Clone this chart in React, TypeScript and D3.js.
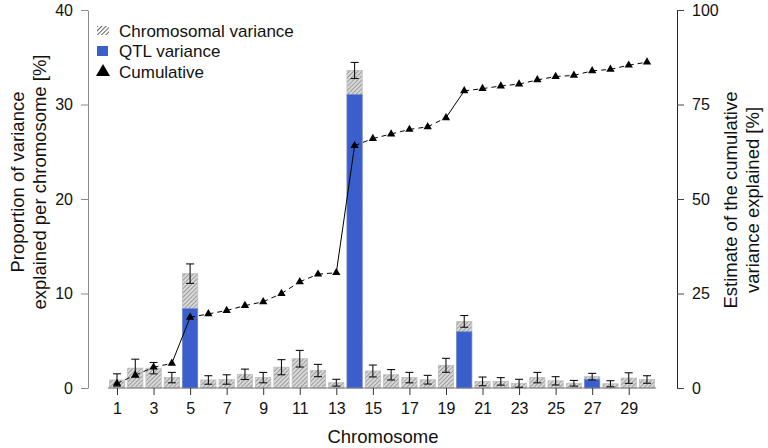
import { useEffect, useRef } from "react";
import * as d3 from "d3";

const chromosomes = [
  1, 2, 3, 4, 5, 6, 7, 8, 9, 10, 11, 12, 13, 14, 15,
  16, 17, 18, 19, 20, 21, 22, 23, 24, 25, 26, 27, 28, 29, 30,
];
// total variance explained per chromosome [%]
const totalVariance = [
  0.85, 2.1, 2.1, 1.1, 12.1, 0.85, 0.9, 1.45, 1.1, 2.2, 3.1, 1.85, 0.56, 33.6, 1.8,
  1.4, 1.1, 0.88, 2.4, 7.05, 0.7, 0.7, 0.5, 1.1, 0.76, 0.5, 1.2, 0.45, 1.05, 0.9,
];
// part of it explained by QTL [%]
const qtlVariance = [
  0, 0, 0, 0, 8.4, 0, 0, 0, 0, 0, 0, 0, 0, 31.05, 0,
  0, 0, 0, 0, 5.95, 0, 0, 0, 0, 0, 0, 0.92, 0, 0, 0,
];
const errorVariance = [
  0.65, 0.95, 0.6, 0.55, 1.03, 0.45, 0.5, 0.55, 0.55, 0.8, 0.88, 0.65, 0.36, 0.85, 0.63,
  0.55, 0.55, 0.46, 0.74, 0.62, 0.46, 0.4, 0.42, 0.55, 0.44, 0.3, 0.35, 0.32, 0.56, 0.4,
];
const cumulative = [
  1.2, 3.4, 5.5, 6.5, 18.7, 19.6, 20.5, 21.8, 22.8, 25.0, 28.1, 30.1, 30.5, 64.1, 66.0,
  67.2, 68.4, 69.1, 71.5, 78.6, 79.2, 79.9, 80.4, 81.5, 82.4, 82.7, 83.9, 84.3, 85.4, 86.2,
];
// segments ending at these chromosomes are drawn solid
const solidSegments = [5, 14, 20];
const leftTicks = [0, 10, 20, 30, 40];
const rightTicks = [0, 25, 50, 75, 100];
const xTickLabels = [1, 3, 5, 7, 9, 11, 13, 15, 17, 19, 21, 23, 25, 27, 29];
const legendItems = ["Chromosomal variance", "QTL variance", "Cumulative"];

const W = 768;
const H = 448;
const PLOT = { top: 10, bottom: 388, left: 88, right: 677 };
const BLUE = "#3a5fcd";
const FONT = "'Liberation Sans', Arial, Helvetica, sans-serif";

export default function App() {
  const axesRef = useRef<SVGGElement>(null);

  const x = d3.scaleLinear().domain([1, 30]).range([117, 647]);
  const step = x(2) - x(1);
  const barW = step / 1.2;
  const yL = d3.scaleLinear().domain([0, 40]).range([PLOT.bottom, PLOT.top]);
  const yR = d3.scaleLinear().domain([0, 100]).range([PLOT.bottom, PLOT.top]);

  const tri = d3.symbol(d3.symbolTriangle, 30)() ?? "";
  const triLegend = d3.symbol(d3.symbolTriangle, 85)() ?? "";

  useEffect(() => {
    if (!axesRef.current) return;
    const g = d3.select(axesRef.current);
    g.selectAll("*").remove();

    // left axis
    const left = g
      .append("g")
      .attr("transform", `translate(${PLOT.left},0)`)
      .call(d3.axisLeft(yL).tickValues(leftTicks).tickSize(7).tickSizeOuter(0).tickPadding(8));
    left.select(".domain").attr("stroke", "#8a8a8a");
    left.selectAll(".tick line").attr("stroke", "#8a8a8a");

    // right axis
    const right = g
      .append("g")
      .attr("transform", `translate(${PLOT.right},0)`)
      .call(d3.axisRight(yR).tickValues(rightTicks).tickSize(7).tickSizeOuter(0).tickPadding(8));
    right.select(".domain").attr("stroke", "#222");
    right.selectAll(".tick line").attr("stroke", "#444");

    // x axis
    const bottom = g
      .append("g")
      .attr("transform", `translate(0,${PLOT.bottom})`)
      .call(d3.axisBottom(x).tickValues(xTickLabels).tickSize(7).tickSizeOuter(0).tickPadding(8).tickFormat(d3.format("d")));
    bottom.select(".domain").remove();
    bottom.selectAll(".tick line").attr("stroke", "#333");

    g.selectAll("text").attr("font-family", FONT).attr("font-size", 16).attr("fill", "#111");
  }, []);

  return (
    <svg
      width={W}
      height={H}
      style={{ position: "absolute", left: 0, top: 0, background: "#fff" }}
      fontFamily={FONT}
    >
      <defs>
        <pattern id="hatch" patternUnits="userSpaceOnUse" width={3} height={3} patternTransform="rotate(45)">
          <rect width={3} height={3} fill="#d9d9d9" />
          <line x1={0} y1={0} x2={0} y2={3} stroke="#5e5e5e" strokeWidth={1} />
        </pattern>
        <pattern id="hatchLegend" patternUnits="userSpaceOnUse" width={3} height={3} patternTransform="rotate(45)">
          <rect width={3} height={3} fill="#fff" />
          <line x1={0} y1={0} x2={0} y2={3} stroke="#222" strokeWidth={1.4} />
        </pattern>
      </defs>

      {/* bars */}
      <g>
        {chromosomes.map((c, i) => {
          const x0 = x(c) - barW / 2;
          return (
            <g key={c}>
              <rect
                x={x0}
                y={yL(totalVariance[i])}
                width={barW}
                height={yL(0) - yL(totalVariance[i])}
                fill="url(#hatch)"
                stroke="#bdbdbd"
                strokeWidth={0.8}
              />
              {qtlVariance[i] > 0 && (
                <rect
                  x={x0}
                  y={yL(qtlVariance[i])}
                  width={barW}
                  height={yL(0) - yL(qtlVariance[i])}
                  fill={BLUE}
                  stroke="#6f86d6"
                  strokeWidth={0.6}
                />
              )}
            </g>
          );
        })}
        <line
          x1={x(1) - step / 2}
          x2={x(30) + step / 2}
          y1={yL(0)}
          y2={yL(0)}
          stroke="#777"
          strokeWidth={1}
        />
      </g>

      {/* error bars */}
      <g stroke="#111" strokeWidth={1.1}>
        {chromosomes.map((c, i) => {
          const hi = yL(totalVariance[i] + errorVariance[i]);
          const lo = yL(Math.max(0, totalVariance[i] - errorVariance[i]));
          const cx = x(c);
          return (
            <g key={c}>
              <line x1={cx} x2={cx} y1={hi} y2={lo} />
              <line x1={cx - 4} x2={cx + 4} y1={hi} y2={hi} />
              <line x1={cx - 4} x2={cx + 4} y1={lo} y2={lo} />
            </g>
          );
        })}
      </g>

      {/* cumulative line */}
      <g stroke="#000" strokeWidth={1} fill="none">
        {chromosomes.slice(1).map((c, k) => (
          <line
            key={c}
            x1={x(chromosomes[k])}
            y1={yR(cumulative[k])}
            x2={x(c)}
            y2={yR(cumulative[k + 1])}
            strokeDasharray={solidSegments.includes(c) ? undefined : "5,4"}
          />
        ))}
      </g>
      <g fill="#000">
        {chromosomes.map((c, i) => (
          <path key={c} d={tri} transform={`translate(${x(c)},${yR(cumulative[i])})`} />
        ))}
      </g>

      <g ref={axesRef} />

      {/* legend */}
      <g fontSize={17} fill="#111">
        <rect x={97} y={26} width={12} height={9} fill="url(#hatchLegend)" />
        <rect x={97} y={46} width={11} height={10} fill={BLUE} />
        <path d={triLegend} transform="translate(103,72)" fill="#000" />
        {legendItems.map((t, i) => (
          <text key={t} x={119} y={31 + i * 20.5} dominantBaseline="central">
            {t}
          </text>
        ))}
      </g>

      {/* axis titles */}
      <g fontSize={18.5} fill="#111" textAnchor="middle">
        <text transform="translate(24,182) rotate(-90)">Proportion of variance</text>
        <text transform="translate(45.5,182) rotate(-90)">explained per chromosome [%]</text>
        <text transform="translate(737,200) rotate(-90)">Estimate of the cumulative</text>
        <text transform="translate(759,200) rotate(-90)">variance explained [%]</text>
        <text x={383} y={443}>Chromosome</text>
      </g>
    </svg>
  );
}
